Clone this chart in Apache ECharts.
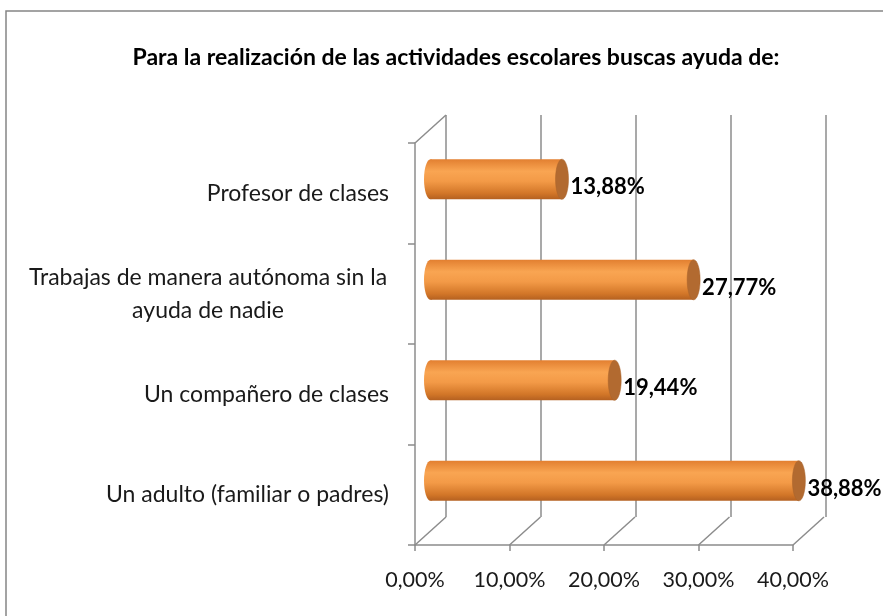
<!DOCTYPE html>
<html>
<head>
<meta charset="utf-8">
<script src="https://cdn.jsdelivr.net/npm/echarts@6/dist/echarts.min.js"></script>
<style>
  html, body { margin: 0; padding: 0; background: #fff; }
  #chart { width: 883px; height: 616px; }
</style>
</head>
<body>
<div id="chart"></div>
<script>
// categories from bottom to top (category axis runs upward)
const categories = [
  'Un adulto (familiar o padres)',
  'Un compañero de clases',
  'Trabajas de manera autónoma sin la\nayuda de nadie',
  'Profesor de clases'
]
const values = [38.88, 19.44, 27.77, 13.88]
const tickValues = [0, 10, 20, 30, 40]

const FONT = 'Lato'
const DEPTH_X = 31
const DEPTH_Y = -28

const chart = echarts.init(document.getElementById('chart'))

function fmtPct(v) {
  return v.toFixed(2).replace('.', ',') + '%'
}

function renderDiagonal(params, api) {
  const cs = params.coordSys
  const v = api.value(0)
  const kind = api.value(1)
  const x = api.coord([v, 0])[0]
  const y = kind === 1 ? cs.y : cs.y + cs.height
  return {
    type: 'line',
    shape: { x1: x, y1: y, x2: x + DEPTH_X, y2: y + DEPTH_Y },
    style: { stroke: '#8c8c8c', lineWidth: 1.5 }
  }
}

function renderCylinder(params, api) {
  const v = api.value(0)
  const start = api.coord([0, api.value(1)])
  const end = api.coord([v, api.value(1)])
  const h = api.size([0, 1])[1] * 0.4
  const ry = h / 2
  const rx = 6.5
  const cy = start[1]
  const bodyGrad = new echarts.graphic.LinearGradient(0, 0, 0, 1, [
    { offset: 0, color: '#e27f30' },
    { offset: 0.3, color: '#f9a552' },
    { offset: 0.55, color: '#f39a47' },
    { offset: 0.85, color: '#d27628' },
    { offset: 1, color: '#b46020' }
  ])
  return {
    type: 'group',
    children: [
      {
        type: 'ellipse',
        shape: { cx: start[0], cy: cy, rx: rx, ry: ry },
        style: { fill: bodyGrad }
      },
      {
        type: 'rect',
        shape: { x: start[0], y: cy - ry, width: end[0] - start[0], height: h },
        style: { fill: bodyGrad }
      },
      {
        type: 'ellipse',
        shape: { cx: end[0], cy: cy, rx: rx, ry: ry },
        style: { fill: '#b26a30', stroke: '#a8622a', lineWidth: 0.5 }
      },
      {
        type: 'text',
        style: {
          x: end[0] + rx + 2,
          y: cy + 8,
          text: fmtPct(v),
          fill: '#000',
          font: 'bold 22px ' + FONT,
          align: 'left',
          verticalAlign: 'middle'
        }
      }
    ]
  }
}

chart.setOption({
  animation: false,
  title: {
    text: 'Para la realización de las actividades escolares buscas ayuda de:',
    left: 451,
    textAlign: 'center',
    top: 41,
    textStyle: { fontFamily: FONT, fontWeight: 'bold', fontSize: 23, color: '#000' }
  },
  graphic: [{
    type: 'rect',
    shape: { x: 6, y: 11, width: 900, height: 640 },
    style: { fill: 'none', stroke: '#858585', lineWidth: 1.5 },
    silent: true
  }],
  grid: [
    // front plane: axes and labels
    { left: 415, top: 143, width: 378, height: 402 },
    // back wall: gridlines
    { left: 446, top: 115, width: 380, height: 402 },
    // middle depth: cylinders
    { left: 430.5, top: 129, width: 379, height: 402 }
  ],
  xAxis: [
    {
      gridIndex: 0, type: 'value', min: 0, max: 40, interval: 10,
      axisLine: { show: true, lineStyle: { color: '#8c8c8c', width: 1.5 } },
      axisTick: { show: true, length: 6, lineStyle: { color: '#8c8c8c', width: 1.5 } },
      splitLine: { show: false },
      axisLabel: {
        formatter: v => fmtPct(v), color: '#1a1a1a', fontFamily: FONT, fontSize: 21.5, margin: 24
      }
    },
    {
      gridIndex: 1, type: 'value', min: 0, max: 40, interval: 10,
      axisLine: { show: false }, axisTick: { show: false }, axisLabel: { show: false },
      splitLine: { show: true, lineStyle: { color: '#8c8c8c', width: 1.5 } }
    },
    {
      gridIndex: 2, type: 'value', min: 0, max: 40,
      axisLine: { show: false }, axisTick: { show: false }, axisLabel: { show: false },
      splitLine: { show: false }
    }
  ],
  yAxis: [
    {
      gridIndex: 0, type: 'category', data: categories,
      axisLine: { show: true, lineStyle: { color: '#8c8c8c', width: 1.5 } },
      axisTick: { show: true, length: 7, lineStyle: { color: '#8c8c8c', width: 1.5 } },
      axisLabel: {
        color: '#1a1a1a', fontFamily: FONT, fontSize: 23, margin: 26, lineHeight: 33,
        formatter: function (v) {
          if (v.indexOf('\n') < 0) return v
          return v.split('\n').map(s => '{c|' + s + '}').join('\n')
        },
        rich: {
          c: { width: 362, align: 'center', fontFamily: FONT, fontSize: 23, color: '#1a1a1a', lineHeight: 33 }
        }
      }
    },
    {
      gridIndex: 1, type: 'category', data: categories, show: false
    },
    {
      gridIndex: 2, type: 'category', data: categories, show: false
    }
  ],
  series: [
    {
      type: 'custom',
      xAxisIndex: 0, yAxisIndex: 0,
      renderItem: renderDiagonal,
      data: tickValues.map(v => [v, 0]).concat([[0, 1]]),
      silent: true
    },
    {
      type: 'custom',
      xAxisIndex: 2, yAxisIndex: 2,
      renderItem: renderCylinder,
      data: values.map((v, i) => [v, i]),
      silent: true
    }
  ]
})
</script>
</body>
</html>
